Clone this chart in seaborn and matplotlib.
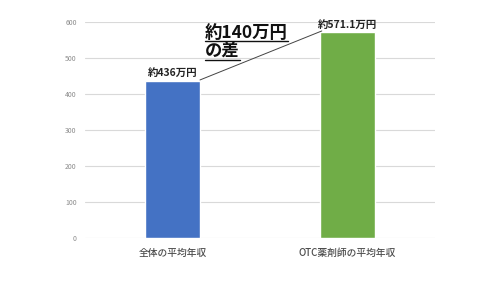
import matplotlib
matplotlib.use("Agg")
import matplotlib.pyplot as plt
import seaborn as sns
import pandas as pd
from matplotlib.lines import Line2D

categories = ["全体の平均年収", "OTC薬剤師の平均年収"]
values = [436, 571.1]
bar_labels = ["約436万円", "約571.1万円"]
colors = ["#4472C4", "#70AD47"]
yticks = [0, 100, 200, 300, 400, 500, 600]
note_lines = ["約140万円", "の差"]

sns.set_theme(style="white")
plt.rcParams['font.family'] = ['Noto Sans CJK JP', 'DejaVu Sans']

df = pd.DataFrame({"cat": categories, "val": values})

fig = plt.figure(figsize=(5, 2.81), dpi=100)
ax = fig.add_axes([0.17, 1 - 238 / 281, 0.70, 216 / 281])

sns.barplot(data=df, x="cat", y="val", hue="cat", palette=colors,
            width=0.314, ax=ax, legend=False, saturation=1)

ax.set_xlim(-0.5, 1.5)
ax.set_ylim(0, 600)
ax.set_yticks(yticks)
ax.set_yticklabels([str(t) for t in yticks], fontsize=5, color="#8c8c8c")
ax.set_xticks(range(len(categories)))
ax.set_xticklabels(categories, fontsize=7, color="#4d4d4d", fontweight="medium")
ax.tick_params(axis="x", length=0, pad=7)
ax.tick_params(axis="y", length=0, pad=6)
ax.set_xlabel("")
ax.set_ylabel("")
ax.yaxis.grid(True, color="#d9d9d9", linewidth=0.8)
ax.set_axisbelow(True)
for s in ax.spines.values():
    s.set_visible(False)

for i, (v, lab) in enumerate(zip(values, bar_labels)):
    ax.text(i, v + 8, lab, ha="center", va="bottom", fontsize=7.5,
            fontweight="bold", color="#222222")

# connector line from top-right of first bar to the left of the second label
bw = 0.314
ax.plot([0 + bw / 2, 1 - bw / 2 + 0.01], [values[0] + 3, values[1] + 4],
        color="#444444", linewidth=0.7, clip_on=False)

# difference note, bold and underlined
fig.canvas.draw()
renderer = fig.canvas.get_renderer()
y_positions = [0.865, 0.80]
for txt, yp in zip(note_lines, y_positions):
    t = fig.text(0.41, yp, txt, fontsize=12.5, fontweight="bold",
                 color="#111111", ha="left", va="baseline")
    bb = t.get_window_extent(renderer=renderer).transformed(fig.transFigure.inverted())
    uy = yp - 0.012
    fig.add_artist(Line2D([bb.x0, bb.x1], [uy, uy], transform=fig.transFigure,
                          color="#111111", linewidth=1.0))

fig.savefig("out.png", dpi=100, facecolor="white")
